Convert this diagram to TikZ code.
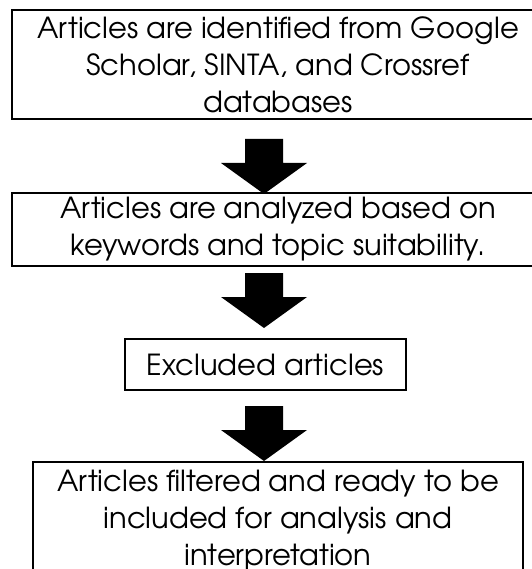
\documentclass[tikz,border=0pt]{standalone}
\usepackage{fontspec}
\setmainfont{TeX Gyre Adventor}
\tikzset{
  x=1pt, y=1pt,
  stepbox/.style={draw=black, line width=1.8pt, inner sep=0pt, align=center,
    font=\fontsize{29}{37}\selectfont, anchor=center},
  blockarrow/.pic={\fill[black] (-19,0) -- (19,0) -- (19,-24) -- (43,-24) -- (0,-55) -- (-43,-24) -- (-19,-24) -- cycle;}
}
\begin{document}
\begin{tikzpicture}
\useasboundingbox (0,0) rectangle (531,-569);
\node[stepbox, minimum width=532pt, minimum height=109pt] (b1) at (278,-64.5)
  {Articles are identified from Google\\Scholar, SINTA, and Crossref\\databases};
\node[stepbox, minimum width=532pt, minimum height=73pt] (b2) at (278,-229.5)
  {Articles are analyzed based on\\keywords and topic suitability.};
\node[stepbox, minimum width=281pt, minimum height=51pt] (b3) at (265.5,-364.5)
  {Excluded articles};
\node[stepbox, minimum width=490pt, minimum height=118pt] (b4) at (278,-521)
  {Articles filtered and ready to be\\included for analysis and\\interpretation};
\pic (a1) at (264,-139) {blockarrow};
\pic (a2) at (264,-273) {blockarrow};
\pic (a3) at (264,-406) {blockarrow};
\end{tikzpicture}
\end{document}
